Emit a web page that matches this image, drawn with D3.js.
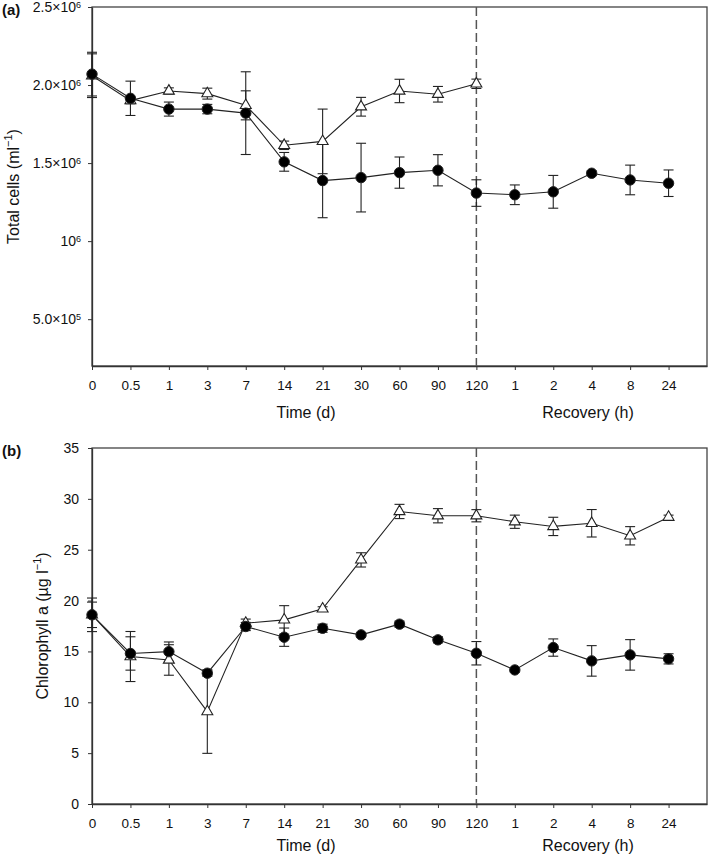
<!DOCTYPE html>
<html>
<head>
<meta charset="utf-8">
<script src="https://cdn.jsdelivr.net/npm/d3@7"></script>
<style>
  body { margin: 0; background: #fff; }
  svg { display: block; font-family: "Liberation Sans", Arial, sans-serif; }
</style>
</head>
<body>
<svg id="chart" width="709" height="857"></svg>
<script>
// ---- Data ----
const categories = ["0","0.5","1","3","7","14","21","30","60","90","120","1","2","4","8","24"];

const cellsCircle    = [2.07e6, 1.915e6, 1.846e6, 1.846e6, 1.82e6, 1.508e6, 1.388e6, 1.407e6, 1.439e6, 1.454e6, 1.308e6, 1.297e6, 1.316e6, 1.435e6, 1.392e6, 1.371e6];
const cellsCircleErr = [0.14e6, 0.11e6, 0.045e6, 0.03e6, 0.265e6, 0.06e6, 0.238e6, 0.22e6, 0.1e6, 0.1e6, 0.085e6, 0.063e6, 0.105e6, 0.015e6, 0.095e6, 0.085e6];
const cellsTri       = [2.06e6, 1.90e6, 1.962e6, 1.945e6, 1.87e6, 1.614e6, 1.639e6, 1.861e6, 1.962e6, 1.941e6, 2.008e6];
const cellsTriErr    = [0.14e6, 0.02e6, 0.02e6, 0.035e6, 0.093e6, 0.027e6, 0.207e6, 0.06e6, 0.075e6, 0.05e6, 0.03e6];

const chlCircle    = [18.6, 14.8, 14.98, 12.86, 17.45, 16.4, 17.28, 16.63, 17.68, 16.14, 14.82, 13.18, 15.38, 14.07, 14.66, 14.27];
const chlCircleErr = [1.25, 1.64, 0.95, 0.3, 0.4, 0.9, 0.4, 0.2, 0.3, 0.3, 1.15, 0.2, 0.85, 1.5, 1.5, 0.5];
const chlTri       = [18.6, 14.5, 14.16, 9.08, 17.78, 18.1, 19.19, 24.0, 28.76, 28.34, 28.34, 27.75, 27.29, 27.6, 26.37, 28.2];
const chlTriErr    = [1.65, 2.46, 1.5, 4.1, 0.4, 1.4, 0.2, 0.7, 0.7, 0.7, 0.6, 0.65, 0.9, 1.35, 0.9, 0.2];

const cellsTicks = [5e5, 1e6, 1.5e6, 2e6, 2.5e6];
const cellsTickLabels = [["5.0×10","5"], ["10","6"], ["1.5×10","6"], ["2.0×10","6"], ["2.5×10","6"]];
const chlTicks = [0, 5, 10, 15, 20, 25, 30, 35];
const dividerIndex = 10;

// ---- Drawing ----
const svg = d3.select("#chart");
const LEFT = 92, RIGHT = 707;
const ink = "#222";

function panel(opts) {
  const g = svg.append("g");
  const x = d3.scaleLinear().domain([0, 16]).range([LEFT, RIGHT]);
  const y = d3.scaleLinear().domain(opts.yDomain).range([opts.bottom, opts.top]);

  // frame
  g.append("rect").attr("x", LEFT).attr("y", opts.top)
    .attr("width", RIGHT - LEFT).attr("height", opts.bottom - opts.top)
    .attr("fill", "none").attr("stroke", "#444").attr("stroke-width", 1.3);

  // x axis
  const xAxis = d3.axisBottom(x).tickValues(d3.range(categories.length))
    .tickFormat(i => categories[i]).tickSize(4).tickSizeOuter(0).tickPadding(opts.xPad);
  const xg = g.append("g").attr("transform", `translate(0,${opts.bottom})`).call(xAxis);
  xg.select(".domain").attr("stroke", "#333").attr("stroke-width", 1.3);
  xg.selectAll(".tick line").attr("stroke", "#333");
  xg.selectAll("text").attr("font-size", 13.5).attr("fill", "#111")
    .attr("font-family", "'Liberation Sans', Arial, sans-serif");

  // y axis
  const yAxis = d3.axisLeft(y).tickValues(opts.yTicks).tickSize(4).tickSizeOuter(0).tickPadding(opts.tickPad)
    .tickFormat(opts.simpleFormat ? (d => d) : (() => ""));
  const yg = g.append("g").attr("transform", `translate(${LEFT},0)`).call(yAxis);
  yg.select(".domain").attr("stroke", "#333").attr("stroke-width", 1.3);
  yg.selectAll(".tick line").attr("stroke", "#333");
  yg.selectAll("text").attr("font-size", 14).attr("fill", "#111")
    .attr("font-family", "'Liberation Sans', Arial, sans-serif");
  if (!opts.simpleFormat) {
    yg.selectAll(".tick text").each(function(d, i) {
      const t = d3.select(this);
      t.text(null);
      const lab = opts.yLabels[i];
      t.append("tspan").text(lab[0]);
      t.append("tspan").attr("font-size", 9).attr("dy", -4).text(lab[1]);
    });
  }

  // dashed divider
  g.append("line").attr("x1", x(dividerIndex)).attr("x2", x(dividerIndex))
    .attr("y1", opts.top).attr("y2", opts.bottom)
    .attr("stroke", "#555").attr("stroke-width", 1.5).attr("stroke-dasharray", "9,4");

  // x axis titles
  g.append("text").attr("x", 306).attr("y", opts.bottom + opts.titleOff).attr("text-anchor", "middle")
    .attr("font-size", 16).attr("fill", "#111").text("Time (d)");
  g.append("text").attr("x", 588).attr("y", opts.bottom + opts.titleOff).attr("text-anchor", "middle")
    .attr("font-size", 16).attr("fill", "#111").text("Recovery (h)");

  // y title
  const yt = g.append("text")
    .attr("transform", `translate(${opts.yTitleX},${(opts.top + opts.bottom) / 2}) rotate(-90)`)
    .attr("text-anchor", "middle").attr("font-size", 16).attr("fill", "#111");
  yt.append("tspan").text(opts.yTitle[0]);
  yt.append("tspan").attr("font-size", 11).attr("dy", -7).text(opts.yTitle[1]);
  yt.append("tspan").attr("dy", 7).text(opts.yTitle[2]);

  // panel label
  g.append("text").attr("x", 2).attr("y", opts.top + 8).attr("font-size", 15)
    .attr("font-weight", "bold").attr("fill", "#111").text(opts.label);

  function drawSeries(vals, errs) {
    const pts = vals.map((v, i) => ({ i, v, e: errs[i] }));
    const eb = g.append("g").attr("stroke", ink).attr("stroke-width", 1.1);
    pts.forEach(p => {
      eb.append("line").attr("x1", x(p.i)).attr("x2", x(p.i))
        .attr("y1", y(p.v - p.e)).attr("y2", y(p.v + p.e));
      [p.v - p.e, p.v + p.e].forEach(c => {
        eb.append("line").attr("x1", x(p.i) - 5).attr("x2", x(p.i) + 5)
          .attr("y1", y(c)).attr("y2", y(c));
      });
    });
    g.append("path").datum(pts)
      .attr("d", d3.line().x(p => x(p.i)).y(p => y(p.v)))
      .attr("fill", "none").attr("stroke", ink).attr("stroke-width", 1.1);
    return pts;
  }

  const triPts = drawSeries(opts.tri, opts.triErr);
  const circPts = drawSeries(opts.circ, opts.circErr);

  g.selectAll(".tri").data(triPts).enter().append("path")
    .attr("d", d3.symbol().type(d3.symbolTriangle).size(52))
    .attr("transform", p => `translate(${x(p.i)},${y(p.v)})`)
    .attr("fill", "#fff").attr("stroke", ink).attr("stroke-width", 1.1);
  g.selectAll(".circ").data(circPts).enter().append("circle")
    .attr("cx", p => x(p.i)).attr("cy", p => y(p.v)).attr("r", 5.2)
    .attr("fill", "#000").attr("stroke", ink);
}

panel({
  top: 7, bottom: 366, yDomain: [2e5, 2.5e6], yTicks: cellsTicks, yLabels: cellsTickLabels,
  simpleFormat: false, tickPad: 7, xPad: 10, titleOff: 52,
  yTitle: ["Total cells (ml", "−1", ")"], yTitleX: 19, label: "(a)",
  circ: cellsCircle, circErr: cellsCircleErr, tri: cellsTri, triErr: cellsTriErr
});

panel({
  top: 448, bottom: 804, yDomain: [0, 35], yTicks: chlTicks,
  simpleFormat: true, tickPad: 9, xPad: 10, titleOff: 47,
  yTitle: ["Chlorophyll a (µg l", "−1", ")"], yTitleX: 48, label: "(b)",
  circ: chlCircle, circErr: chlCircleErr, tri: chlTri, triErr: chlTriErr
});
</script>
</body>
</html>
